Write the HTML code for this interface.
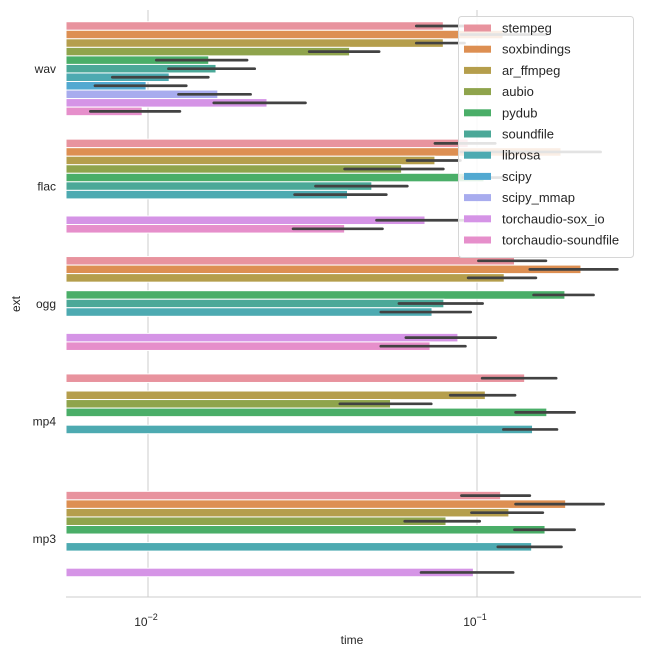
<!DOCTYPE html>
<html><head><meta charset="utf-8"><style>
body{margin:0;background:#fff;}
svg{display:block;font-family:"Liberation Sans",sans-serif;}
</style></head><body>
<svg id="chart" width="650" height="657"></svg>
<script>
const categories=["wav","flac","ogg","mp4","mp3"];
const series=["stempeg","soxbindings","ar_ffmpeg","aubio","pydub","soundfile","librosa","scipy","scipy_mmap","torchaudio-sox_io","torchaudio-soundfile"];
const colors=["#e8939e","#dd8f52","#b59e4c","#8fa44c","#4aae68","#4ba898","#4daab1","#52a9d1","#a8acee","#d594e6","#e68fcb"];
// values[series][category], null = missing
const values=[
 [0.079,0.094,0.130,0.1396,0.118],
 [0.12,0.18,0.207,null,0.186],
 [0.079,0.0745,0.121,0.106,0.125],
 [0.041,0.059,null,0.0546,0.0805],
 [0.0153,0.105,0.185,0.163,0.161],
 [0.0161,0.0479,0.0793,null,null],
 [0.0116,0.0404,0.073,0.1475,0.1466],
 [0.00987,null,null,null,null],
 [0.0163,null,null,null,null],
 [0.023,0.0695,0.0875,null,0.0975],
 [0.0096,0.0396,0.072,null,null]
];
const ciLow=[
 [0.0654,0.0745,0.101,0.1037,0.0897],
 [0.0894,0.0894,0.1447,null,0.131],
 [0.0654,0.0613,0.094,0.0829,0.0962],
 [0.0309,0.0396,null,0.0383,0.0603],
 [0.0106,0.0906,0.1486,0.131,0.130],
 [0.01154,0.0323,0.0579,null,null],
 [0.00779,0.0279,0.051,0.1203,0.1157],
 [0.0069,null,null,null,null],
 [0.01238,null,null,null,null],
 [0.01585,0.0495,0.0608,null,0.0676],
 [0.00668,0.0276,0.051,null,null]
];
const ciHigh=[
 [0.094,0.1136,0.162,0.174,0.1447],
 [0.1627,0.2375,0.267,null,0.2425],
 [0.0916,0.089,0.151,0.1305,0.1585],
 [0.0504,0.079,null,0.0726,0.1019],
 [0.0200,0.122,0.226,0.198,0.198],
 [0.0211,0.0614,0.104,null,null],
 [0.01525,0.053,0.0957,0.175,0.1806],
 [0.01307,null,null,null,null],
 [0.0205,null,null,null,null],
 [0.0301,0.0912,0.114,null,0.1288],
 [0.0125,0.0516,0.0922,null,null]
];
const xTicks=[0.01,0.1];
const xTickLabels=["-2","-1"];

const NS="http://www.w3.org/2000/svg";
const svg=document.getElementById("chart");
const L=66,R=641,T=10,B=597;
const lmin=-2-(148-66)/329, lmax=-1+(641-477)/329;
function xs(v){return L+(Math.log10(v)-lmin)/(lmax-lmin)*(R-L);}
const unit=(B-T)/categories.length;
function yc(i){return T+unit*(i+0.5);}
const bh=unit*0.8/series.length;
function mk(tag,attrs,parent){const e=document.createElementNS(NS,tag);for(const k in attrs)e.setAttribute(k,attrs[k]);(parent||svg).appendChild(e);return e;}

xTicks.forEach((t,i)=>{
 const g=mk("line",{x1:xs(t),x2:xs(t),y1:T,y2:B,stroke:"#cccccc","stroke-width":1});
 
 
 const tx=mk("text",{x:xs(t)-2,y:626,"font-size":12,fill:"#262626","text-anchor":"middle"});
 
 
 tx.textContent="10";
 const sp=mk("tspan",{dy:-6,"font-size":9},tx);sp.textContent="\u2212"+xTickLabels[i].slice(1);
});
const ax=mk("line",{x1:L,x2:R,y1:B,y2:B,stroke:"#cccccc","stroke-width":1});



series.forEach((s,si)=>{
 categories.forEach((c,ci)=>{
  const v=values[si][ci]; if(v==null)return;
  const y=yc(ci)-unit*0.4+si*bh;
  const r=mk("rect",{x:L,y:y,width:xs(v)-L,height:bh,fill:colors[si],stroke:"#ffffff","stroke-width":1});
  
  
 });
});
series.forEach((s,si)=>{
 categories.forEach((c,ci)=>{
  const lo=ciLow[si][ci],hi=ciHigh[si][ci]; if(lo==null)return;
  const y=yc(ci)-unit*0.4+(si+0.5)*bh;
  const e=mk("line",{x1:xs(lo),x2:xs(hi),y1:y,y2:y,stroke:"#424242","stroke-width":2.7,"stroke-linecap":"round"});
  
  
 });
});
categories.forEach((c,ci)=>{
 const t=mk("text",{x:56,y:yc(ci)+4.5,"font-size":12,fill:"#262626","text-anchor":"end"});
 
 
 t.textContent=c;
});
const yt=mk("text",{x:0,y:0,"font-size":12,fill:"#262626","text-anchor":"middle",transform:"translate(20,304) rotate(-90)"});


yt.textContent="ext";
const xt=mk("text",{x:352,y:644,"font-size":12,fill:"#262626","text-anchor":"middle"});


xt.textContent="time";

const lg=mk("g",{});


mk("rect",{x:458.5,y:16.5,width:175,height:241,rx:3,fill:"#ffffff","fill-opacity":0.85,stroke:"#d6d6d6"},lg);
series.forEach((s,si)=>{
 const y=28+si*21.2;
 const p=mk("rect",{x:464,y:y-3.5,width:27,height:7,fill:colors[si]},lg);
 
 
 const t=mk("text",{x:502,y:y+4.5,"font-size":13,fill:"#262626"},lg);
 
 
 t.textContent=s;
});
</script>
</body></html>
